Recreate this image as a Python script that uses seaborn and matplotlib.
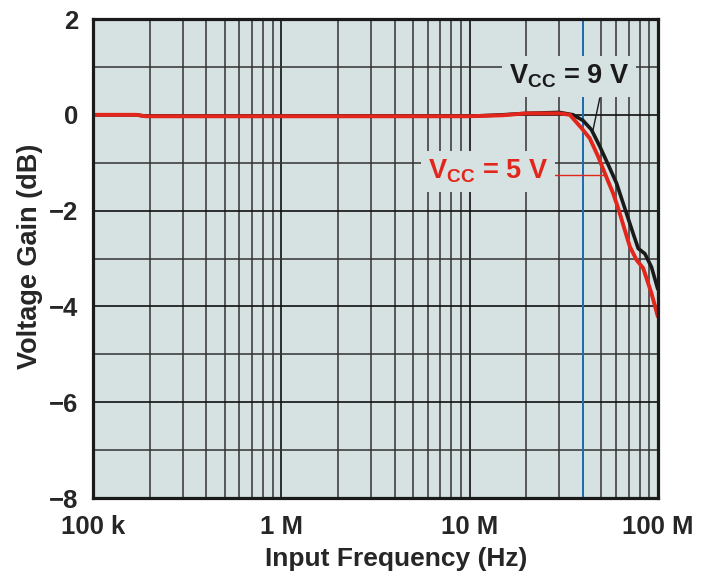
import matplotlib
matplotlib.use("Agg")
import matplotlib.pyplot as plt
import seaborn as sns
import pandas as pd
import numpy as np
from matplotlib import font_manager
from matplotlib.ticker import FixedLocator, FixedFormatter, NullFormatter

# ---- data ----
freq_9v_mhz = [0.1, 0.17, 0.19, 1, 10, 15, 20, 30, 35.5, 40.1, 44.4, 49.2, 54.5,
               60.4, 65.5, 74.0, 78.7, 85.4, 92.6, 100]
gain_9v_db = [0.0, 0.0, -0.03, -0.03, -0.03, 0.0, 0.03, 0.05, 0.0, -0.12, -0.31,
              -0.66, -1.04, -1.43, -1.85, -2.48, -2.79, -2.90, -3.18, -3.64]
freq_5v_mhz = [0.1, 0.17, 0.19, 1, 10, 15, 20, 30, 34.1, 39.4, 43.5, 48.2, 52.3,
               57.9, 61.6, 71.0, 77.1, 83.6, 92.6, 100]
gain_5v_db = [0.0, 0.0, -0.03, -0.03, -0.03, -0.01, 0.03, 0.03, 0.0, -0.28, -0.49,
              -0.87, -1.22, -1.64, -1.95, -2.75, -3.03, -3.20, -3.73, -4.21]
marker_freq_mhz = 40
x_ticks_hz = [1e5, 1e6, 1e7, 1e8]
x_tick_labels = ["100 k", "1 M", "10 M", "100 M"]
y_ticks = [-8, -6, -4, -2, 0, 2]
y_tick_labels = ["\u22128", "\u22126", "\u22124", "\u22122", "0", "2"]

sns.set_theme(style="white")
names = {f.name for f in font_manager.fontManager.ttflist}
FONT = "Liberation Sans Narrow" if "Liberation Sans Narrow" in names else "Liberation Sans"
plt.rcParams["font.family"] = [FONT, "DejaVu Sans"]
plt.rcParams["font.weight"] = "bold"
plt.rcParams["mathtext.fontset"] = "custom"
plt.rcParams["mathtext.rm"] = f"{FONT}:bold"
plt.rcParams["mathtext.bf"] = f"{FONT}:bold"
plt.rcParams["mathtext.it"] = f"{FONT}:bold"
plt.rcParams["mathtext.sf"] = f"{FONT}:bold"

BG = "#d6e1e1"
RED = "#e3261c"

df9 = pd.DataFrame({"f": np.array(freq_9v_mhz) * 1e6, "g": gain_9v_db})
df5 = pd.DataFrame({"f": np.array(freq_5v_mhz) * 1e6, "g": gain_5v_db})

fig = plt.figure(figsize=(7.15, 5.76), dpi=100)
ax = fig.add_axes([0.130, 0.1354, 0.790, 0.8316])
ax.set_facecolor(BG)
ax.set_xscale("log")
ax.set_xlim(1e5, 1e8)
ax.set_ylim(-8, 2)

ax.xaxis.set_major_locator(FixedLocator(x_ticks_hz))
ax.xaxis.set_major_formatter(FixedFormatter(x_tick_labels))
ax.xaxis.set_minor_locator(FixedLocator(
    [m * d for d in (1e5, 1e6, 1e7) for m in range(2, 10)]))
ax.xaxis.set_minor_formatter(NullFormatter())
ax.yaxis.set_major_locator(FixedLocator(y_ticks))
ax.yaxis.set_major_formatter(FixedFormatter(y_tick_labels))
ax.yaxis.set_minor_locator(FixedLocator([-7, -5, -3, -1, 1]))

ax.grid(which="major", color="#111111", linewidth=1.2)
ax.grid(which="minor", color="#333333", linewidth=1.1)
ax.set_axisbelow(True)
ax.tick_params(which="both", length=0, labelsize=18.5)
ax.tick_params(axis="x", pad=12)
ax.tick_params(axis="y", pad=10.5)
for lab in ax.get_xticklabels() + ax.get_yticklabels():
    lab.set_fontweight("bold")
for s in ax.spines.values():
    s.set_color("#1a1a1a")
    s.set_linewidth(2.3)
    s.set_zorder(5)

ax.axvline(marker_freq_mhz * 1e6, color="#1f6db3", linewidth=1.4, zorder=2)

sns.lineplot(data=df9, x="f", y="g", ax=ax, color="#1a1a1a", linewidth=2.6,
             zorder=3, estimator=None)
sns.lineplot(data=df5, x="f", y="g", ax=ax, color=RED, linewidth=2.8,
             zorder=4, estimator=None)

# annotations
ax.plot([49.2e6, 45.2e6], [0.35, -0.33], color="#1a1a1a", linewidth=1.0, zorder=3)
ax.plot([26.7e6, 52.3e6], [-1.25, -1.25], color=RED, linewidth=1.0, zorder=3)
ax.text(33.6e6, 0.80, r"V$_{\mathrm{CC}}$ = 9 V", color="#1a1a1a", fontsize=19.5,
        fontweight="bold", ha="center", va="center", zorder=6,
        bbox=dict(facecolor=BG, edgecolor="none", pad=5))
ax.text(12.5e6, -1.18, r"V$_{\mathrm{CC}}$ = 5 V", color=RED, fontsize=19.5,
        fontweight="bold", ha="center", va="center", zorder=6,
        bbox=dict(facecolor=BG, edgecolor="none", pad=5))

ax.set_xlabel("Input Frequency (Hz)", fontsize=19, fontweight="bold")
ax.set_ylabel("Voltage Gain (dB)", fontsize=19.5, fontweight="bold")
ax.xaxis.set_label_coords(0.536, -0.102)
ax.yaxis.set_label_coords(-0.089, 0.505)

fig.savefig("out.png", dpi=100, facecolor="white")
